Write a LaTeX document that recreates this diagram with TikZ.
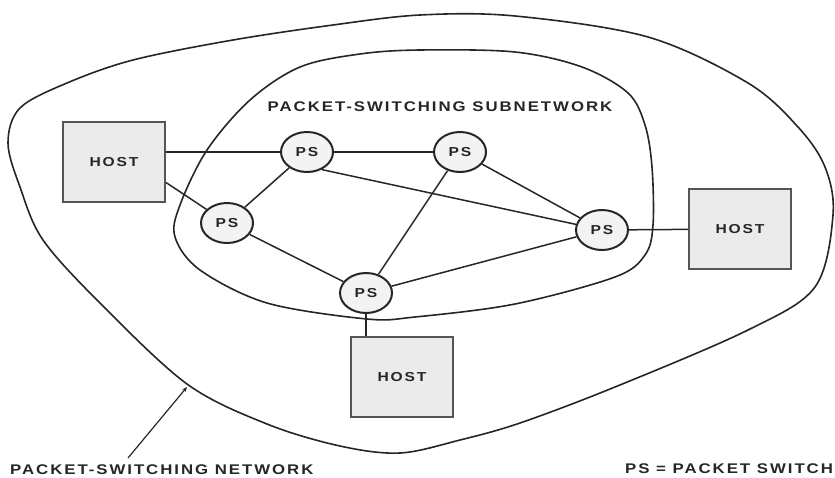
\documentclass[tikz,border=0pt]{standalone}
\usepackage{fontspec}
\newfontfamily\lblfont[FakeStretch=1.2,LetterSpace=14]{Liberation Sans}
\usetikzlibrary{shapes.geometric,arrows.meta,calc}
\definecolor{ink}{HTML}{262626}
\definecolor{boxedge}{HTML}{555555}
\definecolor{boxfill}{HTML}{EBEBEB}
\definecolor{psfill}{HTML}{F3F3F3}
\begin{document}
\begin{tikzpicture}[x=1pt,y=-1pt,
  blob/.style={draw=ink,line width=1.6pt},
  link/.style={draw=ink,line width=1.5pt},
  hostbox/.style={rectangle,draw=boxedge,fill=boxfill,line width=2pt,
    minimum width=102pt,minimum height=80pt,inner sep=0pt,
    font=\lblfont\bfseries\fontsize{13}{13}\selectfont,text=ink},
  switchnode/.style={ellipse,draw=ink,fill=psfill,line width=2pt,
    minimum width=52pt,minimum height=40pt,inner sep=0pt,
    font=\lblfont\bfseries\fontsize{13}{13}\selectfont,text=ink},
  caption/.style={inner sep=0pt,text=ink,
    font=\lblfont\bfseries\fontsize{14}{14}\selectfont}]
\useasboundingbox (0,0) rectangle (835,477);

% packet-switching network (outer boundary)
\draw[blob] plot[smooth cycle,tension=0.55] coordinates {
  (420,15) (515,16) (648,37) (748,83) (798,127) (825,167) (833,215)
  (815,287) (748,330) (615,387) (520,423) (460,440) (400,453) (340,446)
  (267,424) (187,384) (100,303) (43,240) (20,187) (8,143) (20,108)
  (67,83) (133,60) (233,40) (333,25)};

% packet-switching subnetwork (inner boundary)
\draw[blob] plot[smooth cycle,tension=0.55] coordinates {
  (420,50) (515,52) (582,67) (628,93) (645,125) (652,167) (653,225)
  (645,255) (615,277) (515,304) (415,317) (367,319) (267,303) (200,270)
  (175,237) (180,205) (207,150) (250,100) (300,67) (360,54)};

% hosts
\node[hostbox] (hostL) at (114,162) {HOST};
\node[hostbox] (hostR) at (740,229) {HOST};
\node[hostbox] (hostB) at (402,377) {HOST};

% packet switches
\node[switchnode] (ps1) at (307,152) {PS};
\node[switchnode] (ps2) at (460,152) {PS};
\node[switchnode] (ps3) at (227,223) {PS};
\node[switchnode] (ps4) at (602,230) {PS};
\node[switchnode] (ps5) at (366,293) {PS};

% links
\draw[link] (ps1) -- (ps1 -| hostL.east);
\draw[link] (ps3) -- ($(hostL.north east)!.75!(hostL.south east)$);
\draw[link] (ps1) -- (ps2);
\draw[link] (ps1) -- (ps3);
\draw[link] (ps1.-50) -- (ps4);
\draw[link] (ps2) -- (ps4);
\draw[link] (ps2) -- (ps5);
\draw[link] (ps3) -- (ps5);
\draw[link] (ps5) -- (ps4);
\draw[link] (ps4) -- (hostR);
\draw[link] (ps5.south) -- (ps5.south |- hostB.north);

% labels
\node[caption] (sublabel) at (440,107) {PACKET-SWITCHING SUBNETWORK};
\node[caption,anchor=west] (netlabel) at (10,470) {PACKET-SWITCHING NETWORK};
\node[caption,anchor=west] (legend) at (625,469) {PS = PACKET SWITCH};

% pointer to the outer boundary
\coordinate (netedge) at (187,387);
\coordinate (pointerfoot) at (128,458);
\draw[link,line width=1.2pt,-{Stealth[length=5pt,width=4pt]}] (pointerfoot) -- (netedge);
\end{tikzpicture}
\end{document}
